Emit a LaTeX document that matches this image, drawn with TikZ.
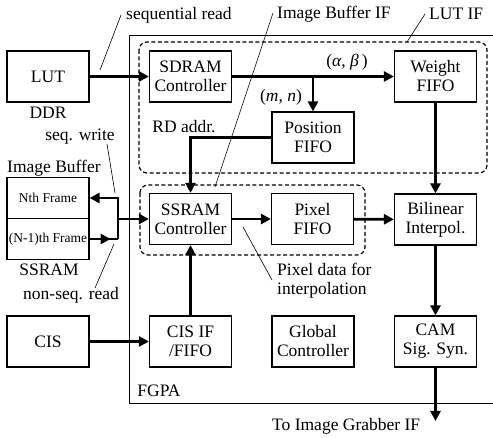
\documentclass[tikz,border=0pt]{standalone}
\usepackage{fontspec}
\setmainfont{Liberation Serif}
\newfontfamily\figfont{Liberation Serif}
\usetikzlibrary{arrows.meta}
\begin{document}
\begin{tikzpicture}[x=1pt,y=-1pt,
  font=\figfont\fontsize{17.5}{19}\selectfont,
  blk/.style={draw,line width=1.2pt,minimum width=82pt,minimum height=51pt,inner sep=1pt,align=center,fill=white},
  frm/.style={draw,line width=1.2pt,minimum width=82pt,minimum height=41pt,inner sep=0pt,font=\figfont\fontsize{13.5}{15}\selectfont},
  flow/.style={line width=2.8pt,-{Triangle[length=10pt,width=10pt]}},
  bus/.style={line width=2.8pt},
  lead/.style={line width=0.6pt},
  ifbox/.style={draw,line width=1.2pt,dash pattern=on 4pt off 2.5pt,rounded corners=8pt},
  lbl/.style={inner sep=0pt}]
\useasboundingbox (0,0) rectangle (493,438);
% FPGA border
\draw[line width=0.8pt] (493,35) -- (129,35) -- (129,403) -- (493,403);
% interface regions
\draw[ifbox] (139,42) rectangle (487,173);
\draw[ifbox] (140,185) rectangle (365,255);
% blocks
\node[blk] (lut) at (48,76.5) {LUT};
\node[blk] (sdram) at (190.5,76.5) {SDRAM\\Controller};
\node[blk] (weight) at (435.5,76.5) {Weight\\FIFO};
\node[blk] (pos) at (313,137.5) {Position\\FIFO};
\node[blk] (ssram) at (190.5,219) {SSRAM\\Controller};
\node[blk] (pixel) at (312.5,219) {Pixel\\FIFO};
\node[blk] (bil) at (435.5,219.5) {Bilinear\\Interpol.};
\node[blk] (cis) at (48,341.5) {CIS};
\node[blk] (cisif) at (190.5,341.5) {CIS IF\\/FIFO};
\node[blk] (glob) at (313,341.5) {Global\\Controller};
\node[blk] (cam) at (435.5,341.5) {CAM\\Sig. Syn.};
\node[frm] (frameN) at (48,198) {Nth Frame};
\node[frm] (frameN1) at (48,239) {(N-1)th Frame};
% coordinates
\coordinate (branch) at (313,76.5);
\coordinate (rdturn) at (190.5,137.5);
\coordinate (busTop) at (118,198);
\coordinate (busBot) at (118,239);
\coordinate (busMid) at (118,219);
\coordinate (grab) at (435.5,421);
% connectors
\draw[flow] (lut) -- (sdram);
\draw[flow] (sdram) -- (weight);
\draw[flow] (branch) -- (pos);
\draw[flow] (pos.west) -- (rdturn) -- (ssram);
\draw[flow] (weight) -- (bil);
\draw[flow] (ssram) -- (pixel);
\draw[flow] (pixel) -- (bil);
\draw[flow] (bil) -- (cam);
\draw[flow] (cam) -- (grab);
\draw[flow] (cis) -- (cisif);
\draw[flow] (cisif) -- (ssram);
\draw[flow] (busBot) -- (busTop) -- (frameN.east);
\draw[bus] (frameN1.east) -- (busBot);
\draw[flow] (frameN1.east) -- ([xshift=21pt]frameN1.east);
\draw[flow] (busMid) -- (ssram.west);
% leader lines
\coordinate (l1a) at (100,70); \coordinate (l1b) at (121,15);
\coordinate (l2a) at (215,187); \coordinate (l2b) at (273,13);
\coordinate (l3a) at (407,42); \coordinate (l3b) at (425,14);
\coordinate (l4a) at (107,144); \coordinate (l4b) at (115,193);
\coordinate (l5a) at (95,288); \coordinate (l5b) at (114,244);
\coordinate (l6a) at (243,227); \coordinate (l6b) at (272,280);
\draw[lead] (l1a) -- (l1b);
\draw[lead] (l2a) -- (l2b);
\draw[lead] (l3a) -- (l3b);
\draw[lead] (l4a) -- (l4b);
\draw[lead] (l5a) -- (l5b);
\draw[lead] (l6a) -- (l6b);
% labels
\node[lbl,anchor=west] (t1) at (126,15) {sequential read};
\node[lbl,anchor=west] (t2) at (277,14) {Image Buffer IF};
\node[lbl,anchor=west] (t3) at (429,14) {LUT IF};
\node[lbl] (t4) at (48,113) {DDR};
\node[lbl] (t5) at (80,137) {seq. write};
\node[lbl,anchor=west] (t6) at (7,168) {Image Buffer};
\node[lbl] (t7) at (49,270) {SSRAM};
\node[lbl,anchor=west] (t8) at (23,295) {non-seq. read};
\node[lbl] (t9) at (184,127) {RD addr.};
\node[lbl] (t10) at (347,62) {(\textit{α}, \textit{β}\,)};
\node[lbl] (t11) at (281,97) {(\textit{m}, \textit{n})};
\node[lbl,anchor=west,align=left] (t12) at (277,281) {Pixel data for\\interpolation};
\node[lbl] (t13) at (159,391) {FGPA};
\node[lbl,anchor=west] (t14) at (272,426) {To Image Grabber IF};
\end{tikzpicture}
\end{document}
